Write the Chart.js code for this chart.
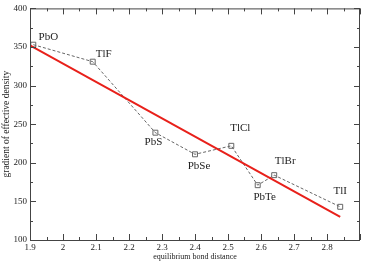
<!DOCTYPE html>
<html>
<head>
<meta charset="utf-8">
<script src="https://cdn.jsdelivr.net/npm/chart.js@4"></script>
<style>
  html, body { margin: 0; padding: 0; background: #fff; }
  #wrap { width: 365px; height: 265px; }
</style>
</head>
<body>
<div id="wrap"><canvas id="chart" width="365" height="265"></canvas></div>
<script>
// compounds and their values
const compounds = ["PbO", "TlF", "PbS", "PbSe", "TlCl", "PbTe", "TlBr", "TlI"];
const bondDistance = [1.91, 2.09, 2.28, 2.40, 2.51, 2.59, 2.64, 2.84];
const gradient = [353, 331, 239, 211, 222, 171, 184, 143];
// label offsets in px (dx, dy) from each point
const labelDx = [15, 11, -2, 4, 9, 7, 11, 0];
const labelDy = [-8, -8, 9, 12, -18, 12, -14, -16];

// linear fit endpoints
const fitX = [1.9, 2.84];
const fitY = [352, 130];

const serif = '"Liberation Serif", "DejaVu Serif", serif';
const axisColor = '#444';
const textColor = '#222';

// -----------------------------
// Plugin: box + inward ticks + point labels
// -----------------------------
const framePlugin = {
    id: 'frame',
    afterDraw(chart) {
        const ctx = chart.ctx;
        const area = chart.chartArea;
        const xs = chart.scales.x;
        const ys = chart.scales.y;
        ctx.save();
        ctx.strokeStyle = axisColor;
        ctx.lineWidth = 1;
        ctx.strokeRect(area.left + 0.5, area.top + 0.5, area.right - area.left - 1, area.bottom - area.top);

        ctx.beginPath();
        // x ticks, major every 0.1, minor every 0.05
        for (let i = 0; i <= 20; i++) {
            const v = 1.9 + i * 0.05;
            const px = Math.round(xs.getPixelForValue(v)) + 0.5;
            const len = i % 2 === 0 ? 6 : 3;
            ctx.moveTo(px, area.bottom);
            ctx.lineTo(px, area.bottom - len);
            ctx.moveTo(px, area.top);
            ctx.lineTo(px, area.top + len);
        }
        // y ticks, major every 50, minor every 25
        for (let i = 0; i <= 12; i++) {
            const v = 100 + i * 25;
            const py = Math.round(ys.getPixelForValue(v)) + 0.5;
            const len = i % 2 === 0 ? 6 : 3;
            ctx.moveTo(area.left, py);
            ctx.lineTo(area.left + len, py);
            ctx.moveTo(area.right, py);
            ctx.lineTo(area.right - len, py);
        }
        ctx.stroke();

        // compound labels
        ctx.fillStyle = textColor;
        ctx.font = '11px ' + serif;
        ctx.textAlign = 'center';
        ctx.textBaseline = 'middle';
        compounds.forEach((name, i) => {
            const px = xs.getPixelForValue(bondDistance[i]);
            const py = ys.getPixelForValue(gradient[i]);
            ctx.fillText(name, px + labelDx[i], py + labelDy[i]);
        });
        ctx.restore();
    }
};

new Chart(document.getElementById('chart'), {
    type: 'scatter',
    data: {
        datasets: [
            {
                label: 'fit',
                data: fitX.map((x, i) => ({x: x, y: fitY[i]})),
                showLine: true,
                borderColor: '#e8201a',
                borderWidth: 2,
                pointRadius: 0
            },
            {
                label: 'data',
                data: bondDistance.map((x, i) => ({x: x, y: gradient[i]})),
                showLine: true,
                borderColor: '#666',
                borderWidth: 1,
                borderDash: [3, 2],
                pointStyle: 'rect',
                pointRadius: 3.5,
                pointBorderColor: '#666',
                pointBorderWidth: 1,
                pointBackgroundColor: 'rgba(0,0,0,0)'
            }
        ]
    },
    options: {
        responsive: false,
        animation: false,
        layout: {padding: {top: 8, right: 3, left: 0, bottom: 3}},
        plugins: {
            legend: {display: false},
            tooltip: {enabled: false}
        },
        scales: {
            x: {
                type: 'linear',
                min: 1.9,
                max: 2.9,
                border: {display: false},
                grid: {display: false, drawTicks: false},
                afterFit: (s) => { s.height = 22; },
                ticks: {
                    stepSize: 0.1,
                    padding: 2,
                    color: textColor,
                    font: {family: serif, size: 9},
                    maxRotation: 0,
                    callback: (v) => {
                        const r = Math.round(v * 10) / 10;
                        return r > 2.85 ? '' : String(r);
                    }
                },
                title: {
                    display: true,
                    text: 'equilibrium bond distance',
                    color: textColor,
                    font: {family: serif, size: 8},
                    padding: {top: 1, bottom: 0}
                }
            },
            y: {
                type: 'linear',
                min: 100,
                max: 400,
                border: {display: false},
                grid: {display: false, drawTicks: false},
                afterFit: (s) => { s.width = 30; },
                ticks: {
                    stepSize: 50,
                    padding: 3,
                    color: textColor,
                    font: {family: serif, size: 9}
                },
                title: {
                    display: true,
                    text: 'gradient of effective density',
                    color: textColor,
                    font: {family: serif, size: 9.5},
                    padding: {top: 1, bottom: 0}
                }
            }
        }
    },
    plugins: [framePlugin]
});
</script>
</body>
</html>
